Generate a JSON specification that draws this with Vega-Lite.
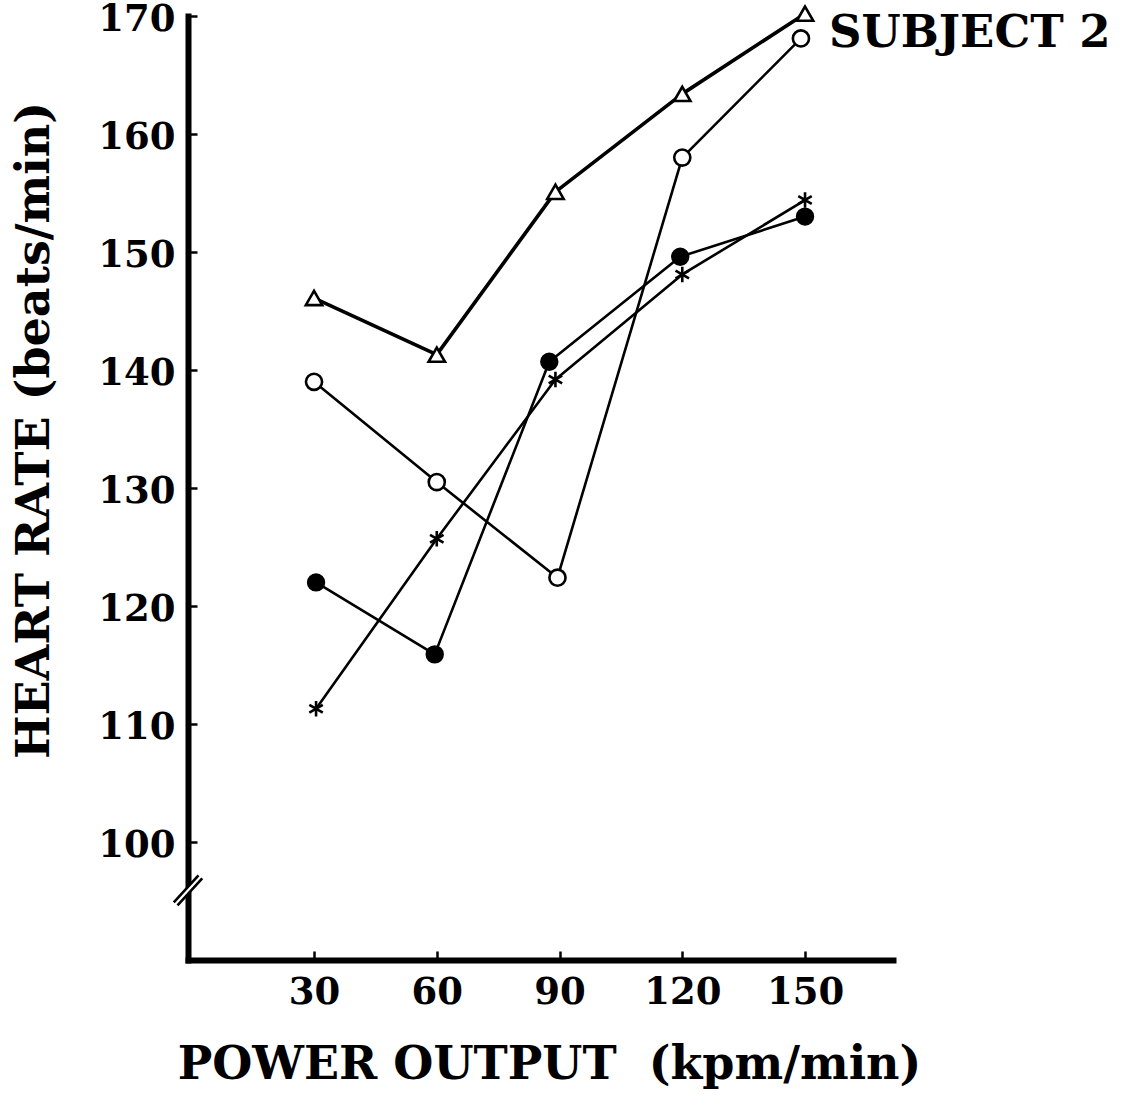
{
  "$schema": "https://vega.github.io/schema/vega-lite/v6.json",
  "autosize": {"type": "none"},
  "padding": {"left": 188, "top": 16, "right": 238, "bottom": 135},
  "width": 705,
  "height": 944,
  "background": "white",
  "config": {
    "view": {"stroke": null},
    "font": "DejaVu Serif",
    "axis": {
      "grid": false,
      "domainColor": "black",
      "domainWidth": 6,
      "domainCap": "square",
      "tickColor": "black",
      "tickWidth": 2.5,
      "tickSize": -9,
      "labelFont": "DejaVu Serif",
      "labelFontWeight": "bold",
      "labelColor": "black",
      "titleFont": "DejaVu Serif",
      "titleFontWeight": "bold",
      "titleColor": "black"
    }
  },
  "datasets": {
    "heartRate": [
      {"series": "open triangle", "power": 30, "hr": 146.1},
      {"series": "open triangle", "power": 60, "hr": 141.3},
      {"series": "open triangle", "power": 89, "hr": 155.1},
      {"series": "open triangle", "power": 120, "hr": 163.4},
      {"series": "open triangle", "power": 150, "hr": 170.2},
      {"series": "open circle", "power": 30, "hr": 139.0},
      {"series": "open circle", "power": 60, "hr": 130.5},
      {"series": "open circle", "power": 89.5, "hr": 122.4},
      {"series": "open circle", "power": 120, "hr": 158.0},
      {"series": "open circle", "power": 149, "hr": 168.1},
      {"series": "filled circle", "power": 30.5, "hr": 122.0},
      {"series": "filled circle", "power": 59.5, "hr": 115.9},
      {"series": "filled circle", "power": 87.5, "hr": 140.7},
      {"series": "filled circle", "power": 119.5, "hr": 149.6},
      {"series": "filled circle", "power": 150, "hr": 153.0},
      {"series": "asterisk", "power": 30.5, "hr": 111.3},
      {"series": "asterisk", "power": 60, "hr": 125.7},
      {"series": "asterisk", "power": 89, "hr": 139.2},
      {"series": "asterisk", "power": 120, "hr": 148.1},
      {"series": "asterisk", "power": 150, "hr": 154.4}
    ],
    "axisBreak": [{"power": -0.8, "hr": 95.9}],
    "subjectLabel": [{"power": 150, "hr": 170, "label": "SUBJECT 2"}]
  },
  "encoding": {
    "x": {
      "field": "power",
      "type": "quantitative",
      "scale": {"domain": [-0.8, 171.5], "nice": false, "zero": false},
      "axis": {
        "values": [30, 60, 90, 120, 150],
        "title": "POWER OUTPUT\u00a0 (kpm/min)",
        "labelFontSize": 37,
        "labelPadding": 23,
        "titleFontSize": 46,
        "titleX": 361,
        "titleY": 104,
        "titleBaseline": "middle",
        "titleAlign": "center"
      }
    },
    "y": {
      "field": "hr",
      "type": "quantitative",
      "scale": {"domain": [90, 170], "nice": false, "zero": false},
      "axis": {
        "values": [100, 110, 120, 130, 140, 150, 160, 170],
        "title": "HEART RATE (beats/min)",
        "labelFontSize": 37,
        "labelPadding": 22,
        "labelOffset": 3,
        "labelBaseline": "middle",
        "titleFontSize": 46,
        "titleAngle": -90,
        "titleX": -154,
        "titleY": 414,
        "titleBaseline": "middle",
        "titleAlign": "center"
      }
    }
  },
  "layer": [
    {
      "data": {"name": "heartRate"},
      "mark": {"type": "line", "color": "black", "strokeCap": "round", "strokeJoin": "round"},
      "encoding": {
        "detail": {"field": "series"},
        "strokeWidth": {
          "condition": {"test": "datum.series === 'open triangle'", "value": 3.6},
          "value": 2.6
        }
      }
    },
    {
      "data": {"name": "heartRate"},
      "mark": {"type": "point", "stroke": "black", "strokeWidth": 2.6, "opacity": 1, "strokeOpacity": 1, "fillOpacity": 1},
      "encoding": {
        "shape": {
          "field": "series",
          "scale": {
            "domain": ["open triangle", "open circle", "filled circle", "asterisk"],
            "range": ["triangle-up", "circle", "circle", "M0,-1L0,1M-0.87,-0.5L0.87,0.5M-0.87,0.5L0.87,-0.5"]
          },
          "legend": null
        },
        "fill": {
          "field": "series",
          "scale": {
            "domain": ["open triangle", "open circle", "filled circle", "asterisk"],
            "range": ["white", "white", "black", "transparent"]
          },
          "legend": null
        },
        "size": {
          "field": "series",
          "scale": {
            "domain": ["open triangle", "open circle", "filled circle", "asterisk"],
            "range": [270, 240, 250, 320]
          },
          "legend": null
        }
      }
    },
    {
      "data": {"name": "axisBreak"},
      "mark": {
        "type": "point",
        "shape": "M-0.95,0.8L0.7,-1L0.95,-0.8L-0.7,1Z",
        "size": 900,
        "filled": true,
        "fill": "white",
        "strokeWidth": 0,
        "opacity": 1
      }
    },
    {
      "data": {"name": "axisBreak"},
      "mark": {
        "type": "point",
        "shape": "M-0.95,0.8L0.7,-1M-0.7,1L0.95,-0.8",
        "size": 900,
        "filled": false,
        "stroke": "black",
        "strokeWidth": 2.6,
        "opacity": 1
      }
    },
    {
      "data": {"name": "subjectLabel"},
      "mark": {
        "type": "text",
        "align": "left",
        "baseline": "middle",
        "dx": 24,
        "dy": 17,
        "font": "DejaVu Serif",
        "fontWeight": "bold",
        "fontSize": 45,
        "color": "black"
      },
      "encoding": {"text": {"field": "label"}}
    }
  ]
}
